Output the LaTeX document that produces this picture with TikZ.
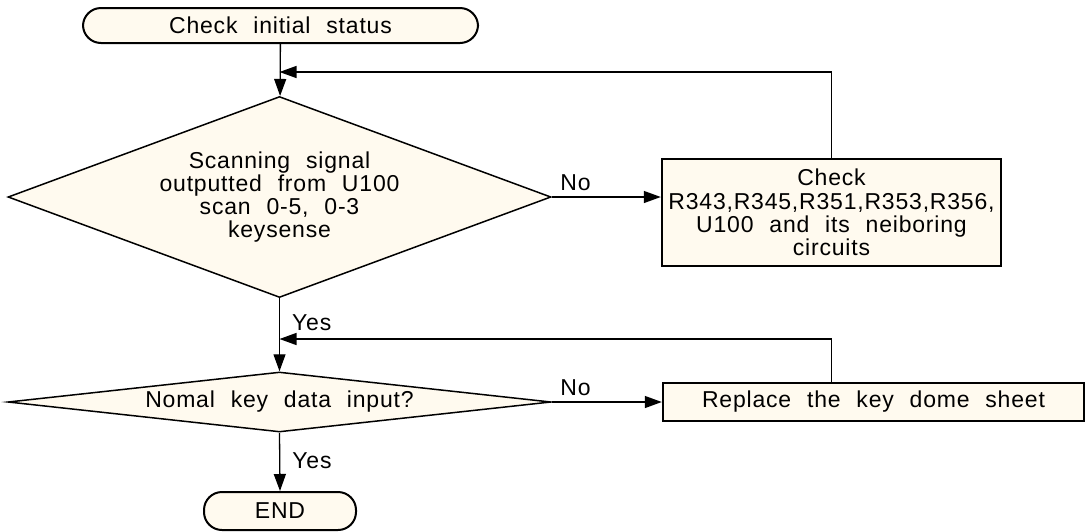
\documentclass[tikz,border=0pt]{standalone}
\usepackage{xcolor}
\usepackage{fontspec}
\setmainfont{Liberation Sans}[LetterSpace=3.5,WordSpace=2.2]
\usetikzlibrary{shapes.geometric,arrows.meta}

\definecolor{cream}{RGB}{255,250,239}

\tikzset{
  arr/.style={line width=0.65pt,-{Triangle[length=8.5pt,width=6pt]}},
  term/.style={draw,line width=1pt,fill=cream,rounded corners=9pt,inner sep=0pt},
  ask/.style={draw,diamond,line width=0.75pt,fill=cream,inner sep=0pt,align=center},
  fix/.style={draw,rectangle,line width=1.2pt,fill=cream,inner sep=0pt,align=center},
  lbl/.style={inner sep=0pt,font=\fontsize{11.5}{11.6}\selectfont}
}

\begin{document}
\begin{tikzpicture}[x=0.5pt,y=-0.5pt,font=\fontsize{11.5}{11.6}\selectfont]
          \useasboundingbox (0,0) rectangle (1086,531);

          \coordinate (fbA) at (279.5,72);
          \coordinate (fbB) at (279.5,339);

          \node[term,minimum width=197.5pt,minimum height=17.5pt] (start) at (280.5,25.5) {Check initial status};
          \node[ask,aspect=2.7,minimum width=271.5pt,minimum height=100.5pt] (scan) at (279.5,197)
               {Scanning signal\\outputted from U100\\scan 0-5, 0-3\\keysense};
          \node[fix,minimum width=169.5pt,minimum height=53.5pt] (checkR) at (831.5,212.5)
               {Check\\R343,R345,R351,R353,R356,\\U100 and its neiboring\\circuits};
          \node[ask,aspect=9,minimum width=271.5pt,minimum height=30pt] (keyin) at (279.5,402) {Nomal key data input?};
          \node[fix,minimum width=210.5pt,minimum height=19pt] (dome) at (873.5,402) {Replace the key dome sheet};
          \node[term,minimum width=76pt,minimum height=19pt] (stop) at (280,511) {END};

          \draw[arr] (start) -- (scan);
          \draw[arr] (checkR.north) |- (fbA);
          \draw[arr] (scan.east) -- (scan.east -| checkR.west) node[lbl,pos=0,anchor=south west,xshift=4pt,yshift=3pt]{No};
          \draw[arr] (scan.south) -- (keyin.north) node[lbl,pos=0.33,anchor=west,xshift=6pt]{Yes};
          \draw[arr] (checkR.north |- dome.north) |- (fbB);
          \draw[arr] (keyin.east) -- (dome.west) node[lbl,pos=0,anchor=south west,xshift=4pt,yshift=3pt]{No};
          \draw[arr] (keyin.south) -- (stop.north) node[lbl,pos=0.48,anchor=west,xshift=6pt]{Yes};
\end{tikzpicture}
\end{document}
